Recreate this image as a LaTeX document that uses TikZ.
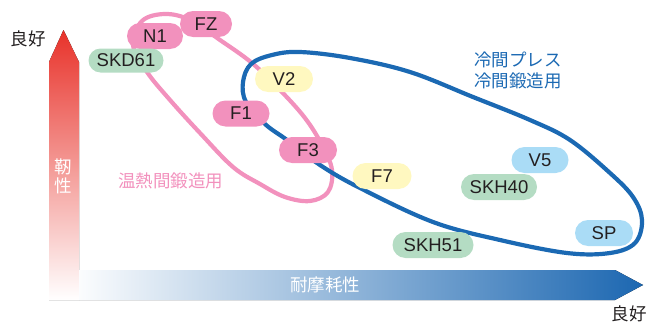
\documentclass[tikz,border=0pt]{standalone}
\usepackage{fontspec}
\setmainfont{Liberation Sans}
\newfontfamily\jp{Noto Sans CJK JP}
\definecolor{txt}{HTML}{231F20}
\definecolor{pinkF}{HTML}{F291BD}
\definecolor{greenF}{HTML}{B4DCC3}
\definecolor{yellowF}{HTML}{FFF8C0}
\definecolor{lblueF}{HTML}{AADCF6}
\definecolor{blueL}{HTML}{1B69B3}
\definecolor{redA}{HTML}{E8322A}
\definecolor{midA}{HTML}{F0835F}
\definecolor{blueA}{HTML}{1C67B1}
\definecolor{midB}{HTML}{A3B2DA}
\begin{document}
\begin{tikzpicture}[x=1pt,y=-1pt,
  pill/.style={rounded corners=13pt, minimum height=26pt, inner sep=0pt, text=txt, font=\fontsize{18.5}{18.5}\selectfont},
  pk/.style={pill, fill=pinkF},
  gr/.style={pill, fill=greenF},
  ye/.style={pill, fill=yellowF},
  lb/.style={pill, fill=lblueF},
  jlabel/.style={font=\jp\fontsize{17.5}{21}\selectfont, inner sep=0pt},
  loopline/.style={line width=4.2pt, line join=round}
]
\useasboundingbox (0,0) rectangle (648,324);
% axes arrows
\fill[top color=redA, middle color=midA, bottom color=white] (49,300) -- (49,62) -- (63.5,30) -- (79,62) -- (79,300) -- cycle;
\fill[left color=white!70!blueA!6, middle color=midB, right color=blueA] (79,270) -- (615,270) -- (643,285) -- (615,300) -- (79,300) -- cycle;
\node[jlabel, text=txt] (goodY) at (28,39) {良好};
\node[jlabel, text=txt] (goodX) at (629,314) {良好};
\node[jlabel, text=white, align=center, font=\jp\fontsize{17.5}{19}\selectfont] (toughness) at (63.5,176) {靭\\性};
\node[jlabel, text=white] (wear) at (325,285) {耐摩耗性};
% loops
\draw[loopline, pinkF] plot[smooth cycle, tension=0.6] coordinates {(142,21) (165,14) (190,20) (220,40) (252,63) (280,90) (305,118) (322,145) (332,170) (328,192) (310,201) (285,197) (260,184) (233,167) (200,133) (170,100) (147,72) (133,45)};
\draw[loopline, blueL] plot[smooth cycle, tension=0.6] coordinates {(243,82) (251,64) (272,55) (300,52) (350,58) (410,72) (473,97) (530,120) (570,140) (610,173) (633,197) (642,220) (635,243) (610,253) (567,253) (500,240) (433,222) (360,188) (320,165) (287,140) (265,124) (246,102)};
\node[jlabel, text=blueL, align=left, anchor=west] (cold) at (474,70) {冷間プレス\\冷間鍛造用};
\node[jlabel, text=pinkF, anchor=west] (warm) at (118,181) {温熱間鍛造用};
% material nodes
\node[pk, minimum width=52pt] (FZ) at (206,24) {FZ};
\node[pk, minimum width=56pt] (N1) at (155,36) {N1};
\node[gr, minimum width=75pt, minimum height=24pt, rounded corners=12pt] (SKD61) at (126,60.5) {SKD61};
\node[ye, minimum width=58pt] (V2) at (284,79) {V2};
\node[pk, minimum width=57pt] (F1) at (241,113.5) {F1};
\node[pk, minimum width=58pt] (F3) at (308,150) {F3};
\node[ye, minimum width=59pt] (F7) at (382,176) {F7};
\node[lb, minimum width=57pt] (V5) at (540,160) {V5};
\node[gr, minimum width=76pt] (SKH40) at (499,187) {SKH40};
\node[lb, minimum width=58pt] (SP) at (604,233) {SP};
\node[gr, minimum width=81pt] (SKH51) at (433,245) {SKH51};
\end{tikzpicture}
\end{document}
